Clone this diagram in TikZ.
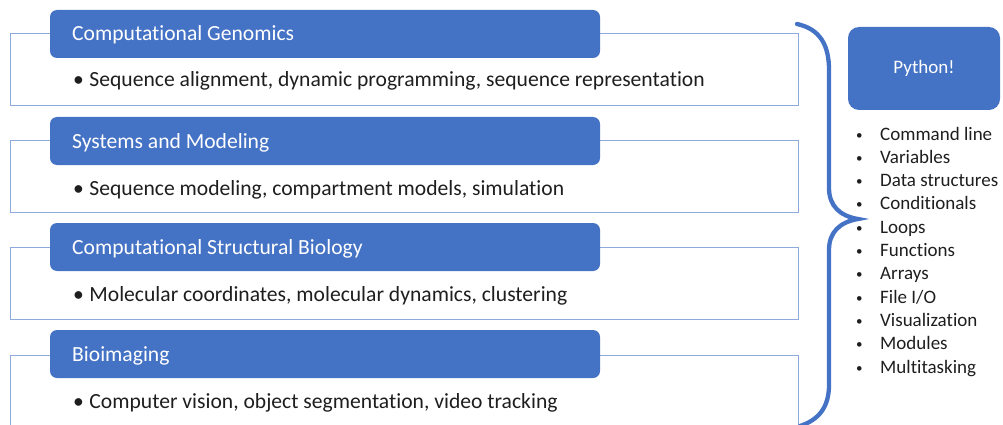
\documentclass[tikz,border=0pt]{standalone}
\usepackage{fontspec}
\setmainfont{Carlito}[Ligatures=NoCommon]
\definecolor{hdr}{HTML}{4472C4}
\definecolor{outl}{HTML}{8EA9DB}
\definecolor{txt}{HTML}{1E1E1E}
\begin{document}
\begin{tikzpicture}[x=1pt,y=-1pt,
  hdrbox/.style={fill=hdr,draw=none,rounded corners=7pt},
  outbox/.style={draw=outl,line width=1pt},
  hdrtext/.style={text=white,font=\fontsize{21.6}{24}\selectfont,anchor=base west,inner sep=0pt},
  bodytext/.style={text=txt,font=\fontsize{21.6}{24}\selectfont,anchor=base west,inner sep=0pt},
  listtext/.style={text=txt,font=\fontsize{19}{22}\selectfont,anchor=base west,inner sep=0pt},
  bracestyle/.style={draw=hdr,line width=4.3pt,line cap=round}]
\useasboundingbox (0,0) rectangle (1003,425);
\clip (0,0) rectangle (1003,425);
% group boxes
\foreach \o in {34,140,247}{
  \draw[outbox] (10,\o) rectangle (798,\o+72);
}
\draw[outbox] (10,355) rectangle (798,460);
\fill[hdrbox] (50,10) rectangle (600,58);
\fill[hdrbox] (50,117) rectangle (600,165);
\fill[hdrbox] (50,223) rectangle (600,271);
\fill[hdrbox] (50,330) rectangle (600,378);
\node[hdrtext] (h1) at (72,41) {Computational Genomics};
\node[hdrtext] (h2) at (72,148) {Systems and Modeling};
\node[hdrtext] (h3) at (72,254) {Computational Structural Biology};
\node[hdrtext] (h4) at (72,361) {Bioimaging};
\node[bodytext] (b1) at (73,87) {•\hspace{5.5pt}Sequence alignment, dynamic programming, sequence representation};
\node[bodytext] (b2) at (73,195) {•\hspace{5.5pt}Sequence modeling, compartment models, simulation};
\node[bodytext] (b3) at (73,301) {•\hspace{5.5pt}Molecular coordinates, molecular dynamics, clustering};
\node[bodytext] (b4) at (73,408) {•\hspace{5.5pt}Computer vision, object segmentation, video tracking};
% brace
\draw[bracestyle] (797,24) .. controls (820,29) and (829,45) .. (829,70) -- (829,188)
  .. controls (829,206) and (840,216) .. (858,219)
  .. controls (840,222) and (829,232) .. (829,250) -- (829,385)
  .. controls (829,408) and (818,420) .. (800,426);
% python box
\node[fill=hdr,rounded corners=11pt,minimum width=152pt,minimum height=83pt,inner sep=0pt,
  text=white,font=\fontsize{19}{22}\selectfont] (py) at (924,68.5) {Python!};
\foreach \n/\t in {0/{Command line},1/{Variables},2/{Data structures},3/{Conditionals},
  4/{Loops},5/{Functions},6/{Arrays},7/{File I/O},8/{Visualization},9/{Modules},10/{Multitasking}}{
  \node[listtext] (it\n) at (856,140+23.3*\n) {\makebox[24pt][l]{\raisebox{1pt}{\fontsize{13}{13}\selectfont •}}\t};
}
\end{tikzpicture}
\end{document}
